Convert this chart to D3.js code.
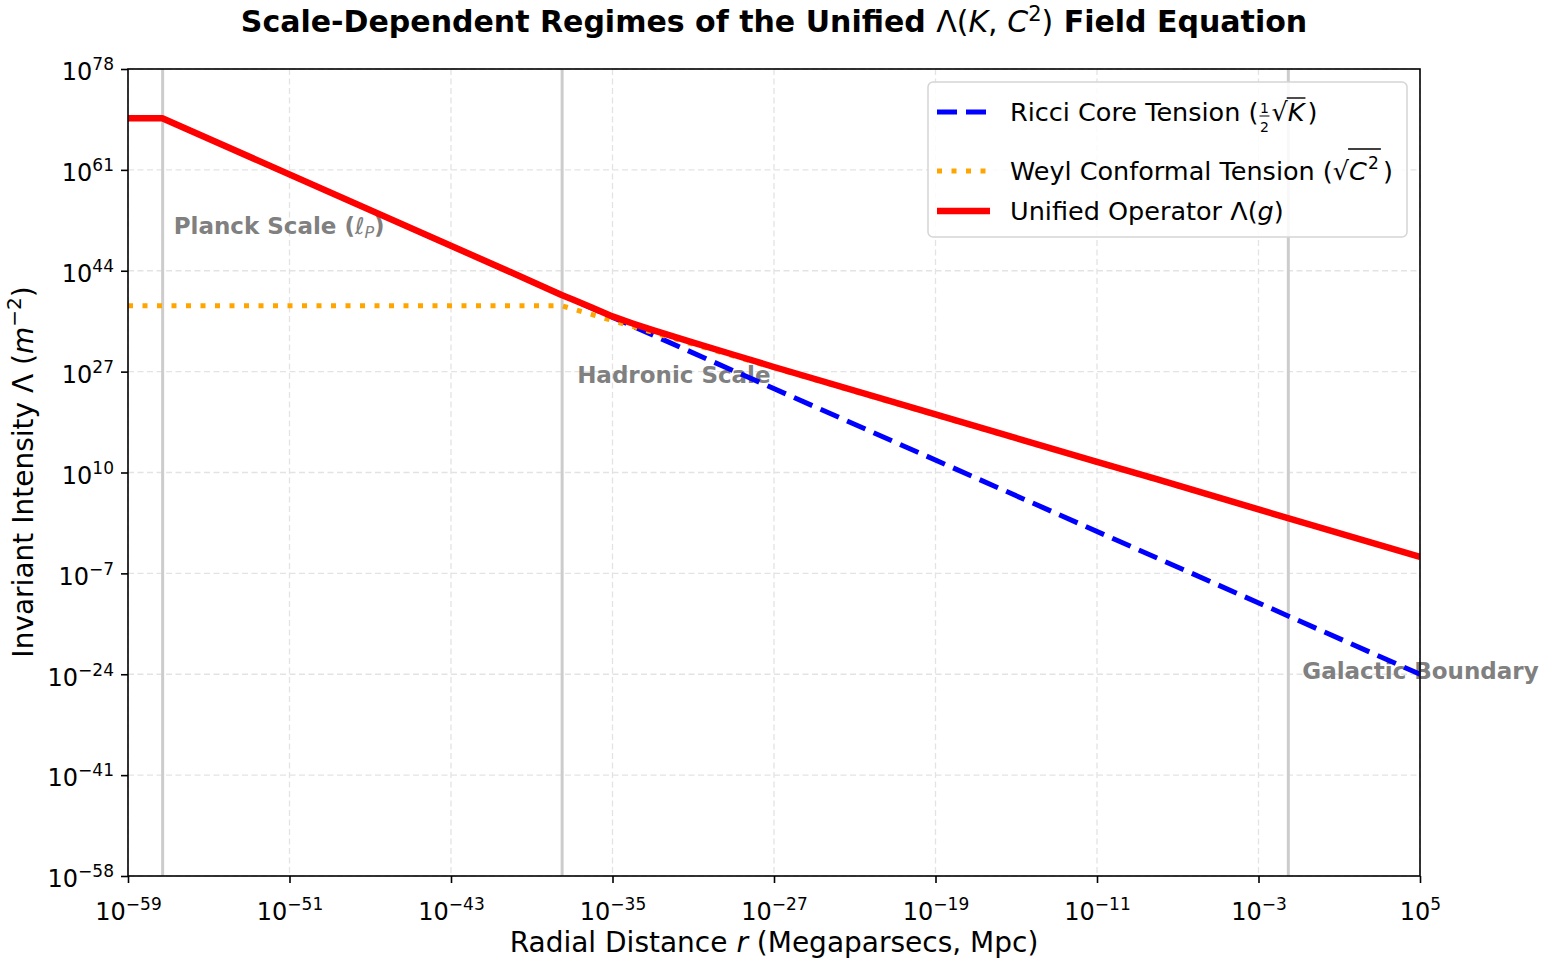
<!DOCTYPE html>
<html>
<head>
<meta charset="utf-8">
<script src="https://cdn.jsdelivr.net/npm/d3@7"></script>
<style>
  html, body { margin: 0; padding: 0; background: #fff; }
  svg { display: block; font-family: "DejaVu Sans", sans-serif; }
</style>
</head>
<body>
<div id="chart"></div>
<script>
// axis ticks (powers of ten)
const xTickExp = [-59, -51, -43, -35, -27, -19, -11, -3, 5];
const yTickExp = [-58, -41, -24, -7, 10, 27, 44, 61, 78];

// Ricci core tension (1/2 sqrt K)
const ricciR = [1e-59, 5e-58, 1e5];
const ricciL = [5e69, 5e69, 1e-24];

// Weyl conformal tension (sqrt C^2)
const weylR = [1e-59, 3e-38, 1e5];
const weylL = [1.3e38, 1.3e38, 6e-5];

// Unified operator Lambda(g)
const unifiedR = [1e-59, 5e-58, 1e-40, 3e-38, 1e-37, 1e-36, 1e-35,
                  1e-34, 1e-33, 1e-32, 1e-31, 1e-29, 1e-27, 1e-19, 1e-11, 1e-8, 1e-3, 1e5];
const unifiedL = [5e69, 5e69, 5e43, 8e39, 1.6e39, 6e37, 2e36,
                  1.3e35, 1e34, 9e32, 8e31, 7e29, 6e27, 6e19, 6e11, 7e8, 6e3, 6e-5];

// scale markers
const markerNames = ['Planck', 'Hadronic', 'Galactic'];
const markerR = [5.2e-58, 3.2e-38, 0.03];

const W = 1543, H = 964;
const margin = { top: 69, right: 123, bottom: 88, left: 128 };
const width = W - margin.left - margin.right;
const height = H - margin.top - margin.bottom;

const svg = d3.select('#chart').append('svg')
    .attr('width', W)
    .attr('height', H);

const x = d3.scaleLog().domain([1e-59, 1e5]).range([margin.left, margin.left + width]);
const y = d3.scaleLog().domain([1e-58, 1e78]).range([margin.top + height, margin.top]);

const xTicks = xTickExp.map(e => Math.pow(10, e));
const yTicks = yTickExp.map(e => Math.pow(10, e));

// grid
const grid = svg.append('g').attr('stroke', '#e3e3e3').attr('stroke-width', 1.3)
    .attr('stroke-dasharray', '6,3.5');
grid.selectAll('.gx').data(xTicks).enter().append('line')
    .attr('x1', d => x(d)).attr('x2', d => x(d))
    .attr('y1', margin.top).attr('y2', margin.top + height);
grid.selectAll('.gy').data(yTicks).enter().append('line')
    .attr('y1', d => y(d)).attr('y2', d => y(d))
    .attr('x1', margin.left).attr('x2', margin.left + width);

// scale markers (vertical lines)
svg.append('g').selectAll('line').data(markerR).enter().append('line')
    .attr('x1', d => x(d)).attr('x2', d => x(d))
    .attr('y1', margin.top).attr('y2', margin.top + height)
    .attr('stroke', '#cccccc').attr('stroke-width', 3);

// annotations (drawn below the curves)
const ann = svg.append('g').attr('fill', '#808080').attr('font-weight', 'bold').attr('font-size', 23);
const planck = ann.append('text').attr('x', x(markerR[0]) + 11).attr('y', 234);
planck.append('tspan').text('Planck Scale (');
planck.append('tspan').attr('font-weight', 'normal').attr('font-style', 'italic').text('ℓ');
planck.append('tspan').attr('font-weight', 'normal').attr('font-style', 'italic')
    .attr('font-size', 16).attr('dy', 4).text('P');
planck.append('tspan').attr('dy', -4).text(')');
ann.append('text').attr('x', x(markerR[1]) + 15).attr('y', 383).text('Hadronic Scale');
ann.append('text').attr('x', x(markerR[2]) + 14).attr('y', 679).text('Galactic Boundary');

// curves
const clip = svg.append('clipPath').attr('id', 'plotclip').append('rect')
    .attr('x', margin.left).attr('y', margin.top).attr('width', width).attr('height', height);

const line = d3.line().x(d => x(d[0])).y(d => y(d[1]));
const curves = svg.append('g').attr('clip-path', 'url(#plotclip)');

curves.append('path')
    .datum(ricciR.map((r, i) => [r, ricciL[i]]))
    .attr('d', line).attr('fill', 'none')
    .attr('stroke', '#0000ff').attr('stroke-width', 5)
    .attr('stroke-dasharray', '20,9');

curves.append('path')
    .datum(weylR.map((r, i) => [r, weylL[i]]))
    .attr('d', line).attr('fill', 'none')
    .attr('stroke', '#ffa500').attr('stroke-width', 5)
    .attr('stroke-dasharray', '5,9.5');

curves.append('path')
    .datum(unifiedR.map((r, i) => [r, unifiedL[i]]))
    .attr('d', line).attr('fill', 'none')
    .attr('stroke', '#ff0000').attr('stroke-width', 6.5)
    .attr('stroke-linejoin', 'round');

// frame
svg.append('rect')
    .attr('x', margin.left).attr('y', margin.top).attr('width', width).attr('height', height)
    .attr('fill', 'none').attr('stroke', '#000').attr('stroke-width', 1.6);

// axes
function powLabel(sel, e) {
    sel.text(null);
    sel.append('tspan').text('10');
    sel.append('tspan').attr('font-size', 17).attr('dy', -10)
        .text(e < 0 ? '\u2212' + (-e) : String(e));
}

const xAxis = svg.append('g')
    .attr('transform', `translate(0,${margin.top + height})`)
    .call(d3.axisBottom(x).tickValues(xTicks).tickSize(7).tickPadding(8).tickFormat(() => ''));
xAxis.select('.domain').remove();
xAxis.selectAll('.tick line').attr('stroke-width', 1.6);
xAxis.selectAll('.tick text')
    .attr('font-size', 24).attr('fill', '#000').attr('font-family', 'DejaVu Sans')
    .attr('dy', '1.2em')
    .each(function(d, i) { powLabel(d3.select(this), xTickExp[i]); });

const yAxis = svg.append('g')
    .attr('transform', `translate(${margin.left},0)`)
    .call(d3.axisLeft(y).tickValues(yTicks).tickSize(7).tickPadding(7).tickFormat(() => ''));
yAxis.select('.domain').remove();
yAxis.selectAll('.tick line').attr('stroke-width', 1.6);
yAxis.selectAll('.tick text')
    .attr('font-size', 24).attr('fill', '#000').attr('font-family', 'DejaVu Sans')
    .attr('dy', '0.45em')
    .each(function(d, i) { powLabel(d3.select(this), yTickExp[i]); });

// title
const title = svg.append('text').attr('x', 774).attr('y', 32)
    .attr('text-anchor', 'middle').attr('font-size', 30).attr('font-weight', 'bold');
title.append('tspan').text('Scale-Dependent Regimes of the Unified ');
title.append('tspan').attr('font-weight', 'normal').text('Λ(');
title.append('tspan').attr('font-weight', 'normal').attr('font-style', 'italic').text('K');
title.append('tspan').attr('font-weight', 'normal').text(', ');
title.append('tspan').attr('font-weight', 'normal').attr('font-style', 'italic').text('C');
title.append('tspan').attr('font-weight', 'normal').attr('font-size', 21).attr('dy', -11).text('2');
title.append('tspan').attr('font-weight', 'normal').attr('dy', 11).text(')');
title.append('tspan').text(' Field Equation');

// axis labels
const xl = svg.append('text').attr('x', 774).attr('y', 952)
    .attr('text-anchor', 'middle').attr('font-size', 28);
xl.append('tspan').text('Radial Distance ');
xl.append('tspan').attr('font-style', 'italic').text('r');
xl.append('tspan').text(' (Megaparsecs, Mpc)');

const yl = svg.append('text')
    .attr('transform', 'translate(33,472) rotate(-90)')
    .attr('text-anchor', 'middle').attr('font-size', 28);
yl.append('tspan').text('Invariant Intensity Λ (');
yl.append('tspan').attr('font-style', 'italic').text('m');
yl.append('tspan').attr('font-size', 20).attr('dy', -12).text('\u22122');
yl.append('tspan').attr('dy', 12).text(')');

// legend
const lg = svg.append('g');
lg.append('rect').attr('x', 928).attr('y', 82).attr('width', 479).attr('height', 155)
    .attr('rx', 5).attr('fill', '#fff').attr('fill-opacity', 0.85)
    .attr('stroke', '#d5d5d5').attr('stroke-width', 1.5);

const legendY = [112, 171, 211];
const legendStyles = [
    { color: '#0000ff', w: 5, dash: '20,9' },
    { color: '#ffa500', w: 5, dash: '5,9.5' },
    { color: '#ff0000', w: 6.5, dash: null }
];
legendStyles.forEach((s, i) => {
    lg.append('line').attr('x1', 937).attr('x2', 990)
        .attr('y1', legendY[i]).attr('y2', legendY[i])
        .attr('stroke', s.color).attr('stroke-width', s.w)
        .attr('stroke-dasharray', s.dash);
});

const fs = 25.5;
// entry 1: Ricci Core Tension (1/2 sqrt K)
let t = lg.append('text').attr('x', 1010).attr('y', legendY[0] + 9).attr('font-size', fs)
    .text('Ricci Core Tension (');
let cx = 1010 + t.node().getComputedTextLength();
lg.append('text').attr('x', cx + 6).attr('y', legendY[0] + 1).attr('font-size', 14)
    .attr('text-anchor', 'middle').text('1');
lg.append('text').attr('x', cx + 6).attr('y', legendY[0] + 20).attr('font-size', 14)
    .attr('text-anchor', 'middle').text('2');
lg.append('line').attr('x1', cx + 1).attr('x2', cx + 11)
    .attr('y1', legendY[0] + 4).attr('y2', legendY[0] + 4).attr('stroke', '#000').attr('stroke-width', 1);
cx += 13;
t = lg.append('text').attr('x', cx).attr('y', legendY[0] + 9).attr('font-size', fs).text('√');
cx += t.node().getComputedTextLength();
t = lg.append('text').attr('x', cx).attr('y', legendY[0] + 9).attr('font-size', fs)
    .attr('font-style', 'italic').text('K');
let kw = t.node().getComputedTextLength();
lg.append('line').attr('x1', cx - 1).attr('x2', cx + kw + 1)
    .attr('y1', legendY[0] - 14).attr('y2', legendY[0] - 14).attr('stroke', '#000').attr('stroke-width', 1.4);
cx += kw + 3;
lg.append('text').attr('x', cx).attr('y', legendY[0] + 9).attr('font-size', fs).text(')');

// entry 2: Weyl Conformal Tension (sqrt C^2)
t = lg.append('text').attr('x', 1010).attr('y', legendY[1] + 9).attr('font-size', fs)
    .text('Weyl Conformal Tension (');
cx = 1010 + t.node().getComputedTextLength();
t = lg.append('text').attr('x', cx).attr('y', legendY[1] + 9).attr('font-size', fs).text('√');
cx += t.node().getComputedTextLength();
t = lg.append('text').attr('x', cx).attr('y', legendY[1] + 9).attr('font-size', fs)
    .attr('font-style', 'italic').text('C');
kw = t.node().getComputedTextLength();
lg.append('text').attr('x', cx + kw + 1).attr('y', legendY[1] - 2).attr('font-size', 17).text('2');
lg.append('line').attr('x1', cx - 1).attr('x2', cx + kw + 14)
    .attr('y1', legendY[1] - 22).attr('y2', legendY[1] - 22).attr('stroke', '#000').attr('stroke-width', 1.4);
cx += kw + 16;
lg.append('text').attr('x', cx).attr('y', legendY[1] + 9).attr('font-size', fs).text(')');

// entry 3: Unified Operator Lambda(g)
t = lg.append('text').attr('x', 1010).attr('y', legendY[2] + 9).attr('font-size', fs);
t.append('tspan').text('Unified Operator Λ(');
t.append('tspan').attr('font-style', 'italic').text('g');
t.append('tspan').text(')');
</script>
</body>
</html>
